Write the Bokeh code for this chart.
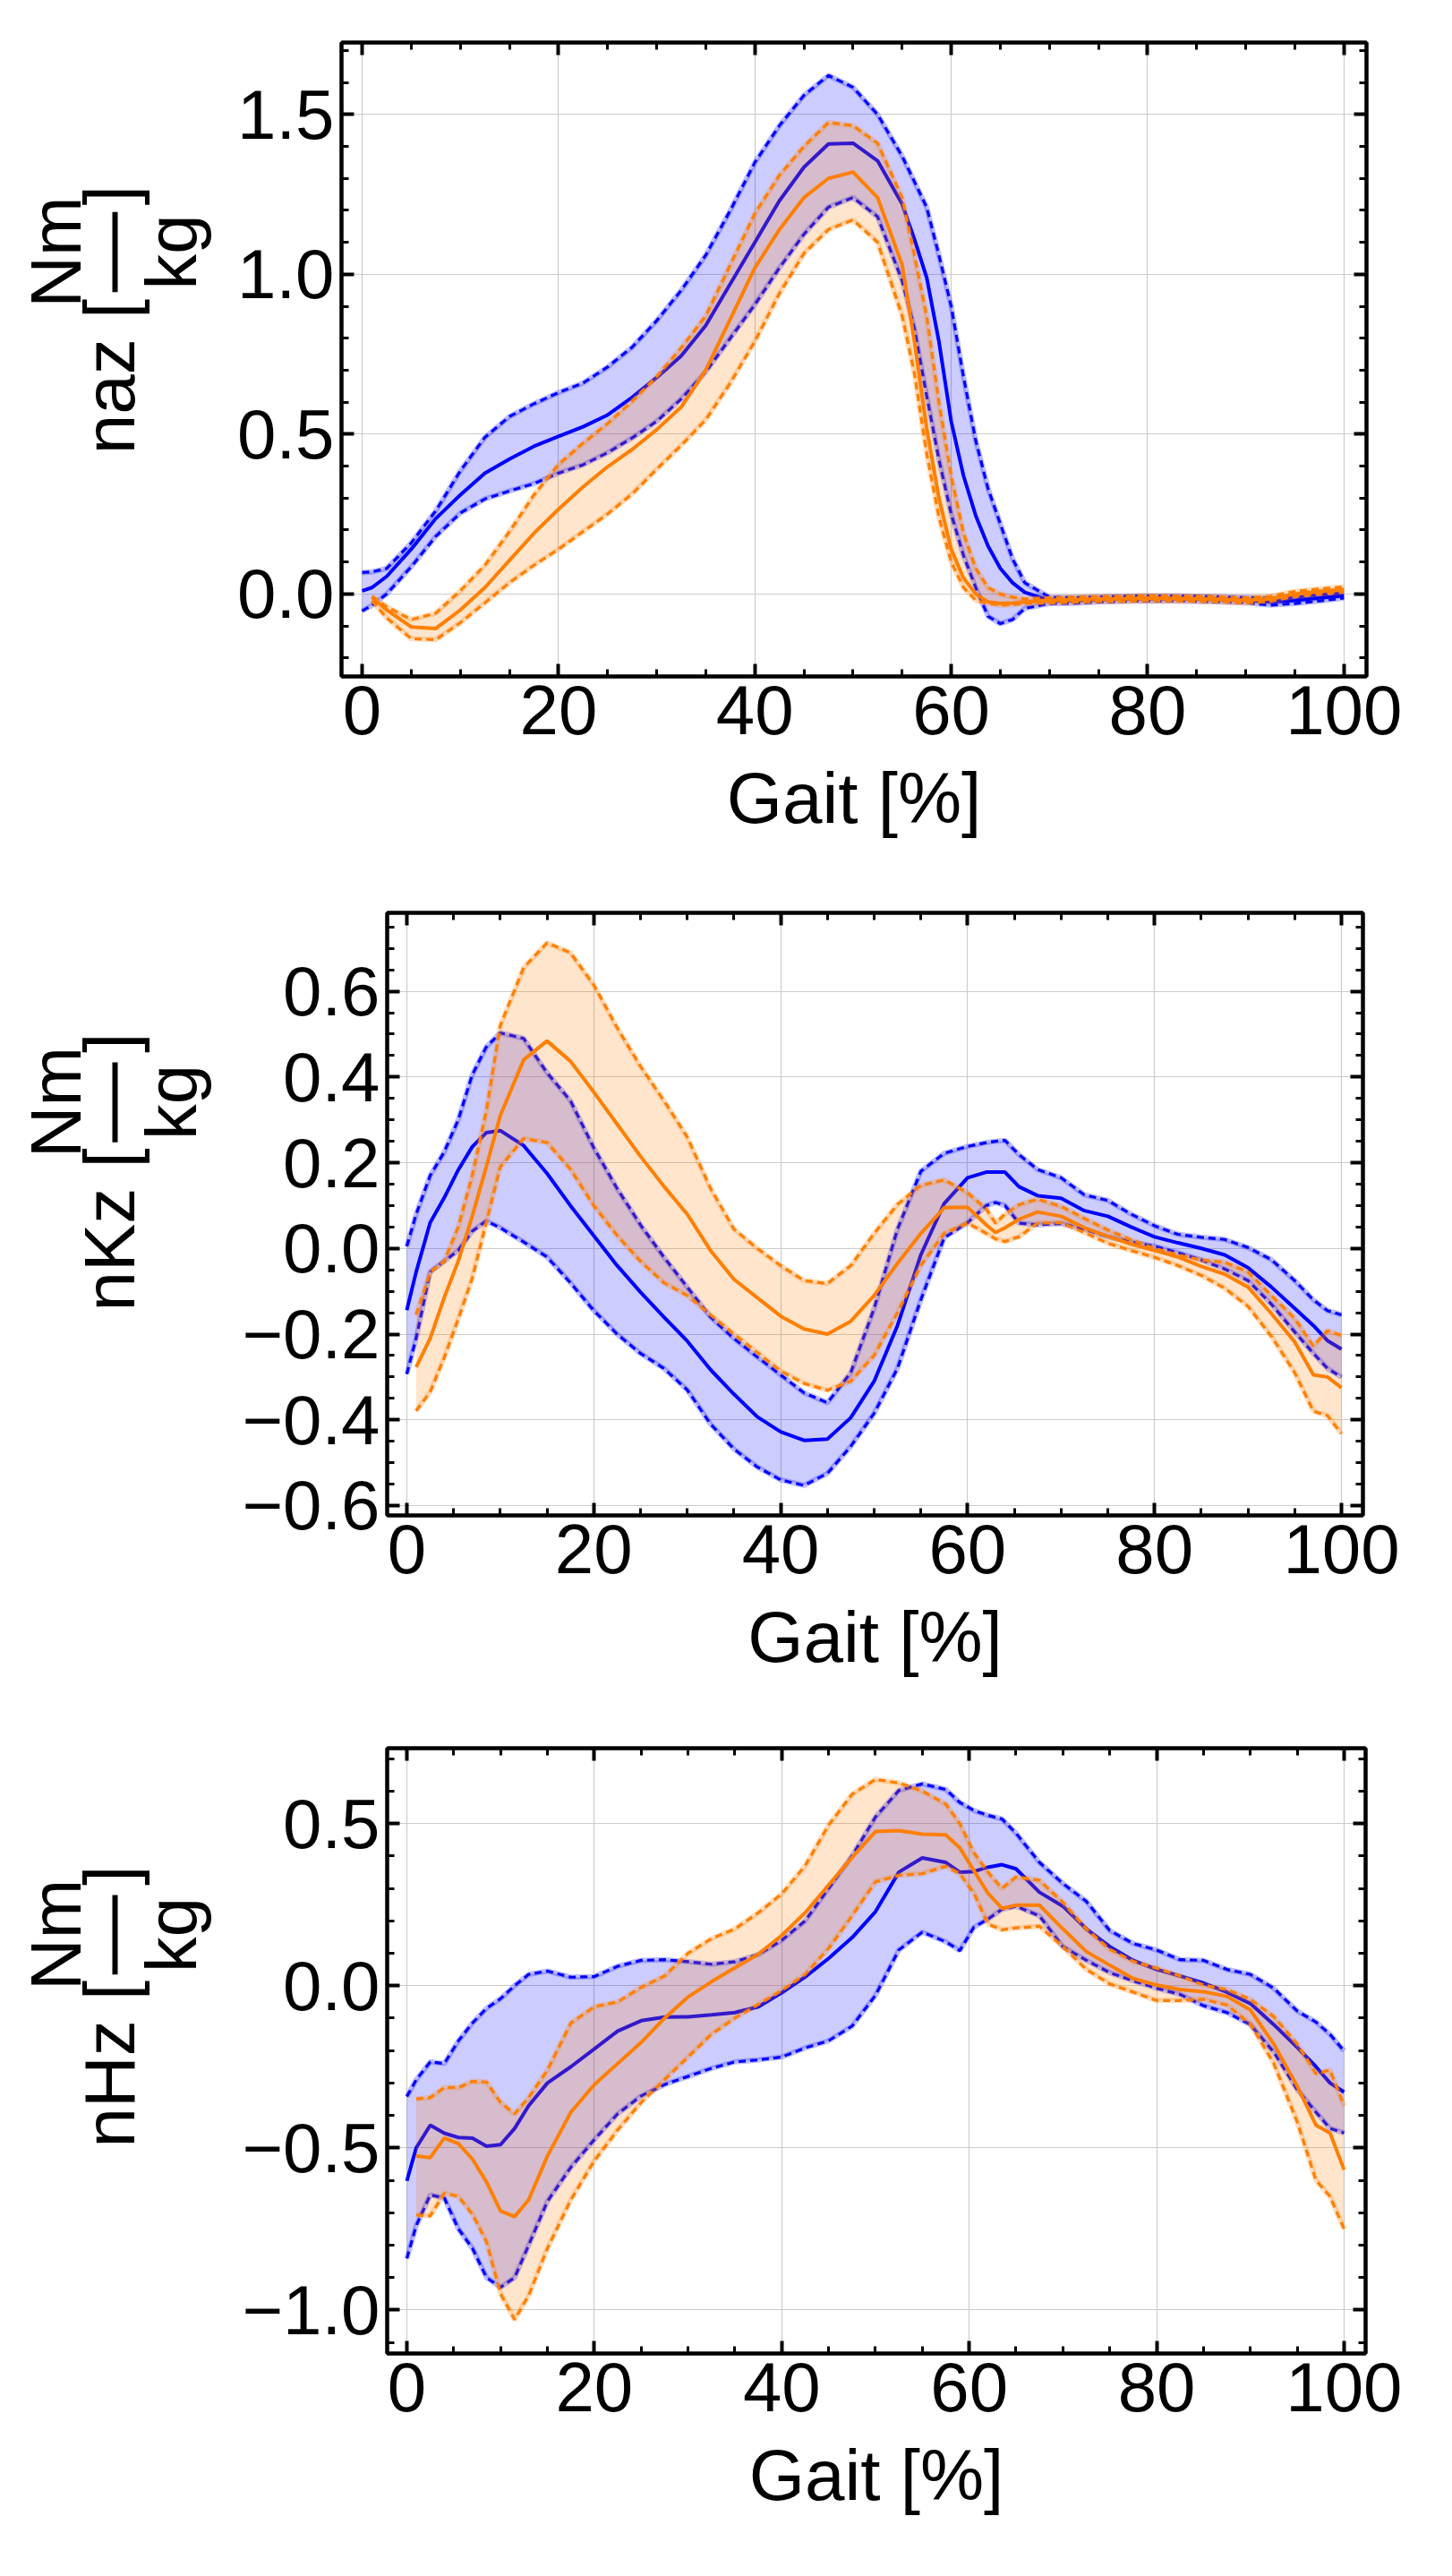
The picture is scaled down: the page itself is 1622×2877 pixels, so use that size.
"""
Gait moment curves (mean and band) for two groups, three stacked panels.
"""
from math import pi

from bokeh.core.properties import value
from bokeh.embed import file_html
from bokeh.layouts import column, row
from bokeh.models import CustomJSTickFormatter, LinearAxis, Range1d, SingleIntervalTicker
from bokeh.plotting import figure
from bokeh.resources import INLINE

FONT = "Liberation Sans"
BLUE = "#0000ff"
ORANGE = "#ff7f00"

# ---- panel 1 : naz ----
gait_1 = [0, 1, 2.5, 5, 7.5, 10, 12.5, 15, 17.5, 20, 22.5, 25, 27.5, 30, 32.5, 35, 37.5,
          40, 42.5, 45, 47.5, 50, 52.5, 55, 56.25, 57.5, 58.75, 60, 61.25, 62.5, 63.75,
          65, 66.25, 67.5, 70, 72.5, 75, 77.5, 80, 82.5, 85, 87.5, 90, 92.5, 95, 97.5, 100]
naz_blue_mean = [0.01, 0.02, 0.055, 0.14, 0.236, 0.31, 0.378, 0.422, 0.462, 0.493, 0.523, 0.56,
                 0.615, 0.677, 0.745, 0.84, 0.97, 1.1, 1.23, 1.335, 1.408, 1.41, 1.355, 1.22,
                 1.11, 0.99, 0.79, 0.54, 0.37, 0.245, 0.15, 0.08, 0.035, 0.005,
                 -0.02, -0.02, -0.017, -0.015, -0.014, -0.014, -0.015, -0.017, -0.019, -0.024,
                 -0.02, -0.012, -0.005]
naz_blue_hi = [0.067, 0.069, 0.08, 0.16, 0.26, 0.385, 0.49, 0.555, 0.595, 0.63, 0.66, 0.71,
               0.772, 0.855, 0.95, 1.06, 1.2, 1.35, 1.465, 1.56, 1.622, 1.585, 1.5, 1.37,
               1.29, 1.21, 1.06, 0.9, 0.68, 0.48, 0.33, 0.22, 0.11, 0.035,
               -0.01, -0.011, -0.009, -0.007, -0.006, -0.006, -0.007, -0.009, -0.011, -0.013,
               -0.01, -0.002, 0.003]
naz_blue_lo = [-0.053, -0.036, 0.0, 0.085, 0.18, 0.253, 0.297, 0.322, 0.345, 0.378, 0.404,
               0.442, 0.488, 0.54, 0.61, 0.695, 0.80, 0.905, 1.02, 1.125, 1.21, 1.24, 1.18, 0.98,
               0.83, 0.62, 0.42, 0.25, 0.12, 0.02, -0.07, -0.093, -0.08, -0.045,
               -0.03, -0.029, -0.025, -0.023, -0.022, -0.022, -0.023, -0.025, -0.027, -0.035,
               -0.03, -0.022, -0.013]
# orange series start at gait = 1
naz_orange_mean = [-0.01, -0.05, -0.103, -0.108, -0.05, 0.02, 0.105, 0.19, 0.265, 0.335, 0.398,
                   0.452, 0.514, 0.585, 0.70, 0.86, 1.02, 1.14, 1.24, 1.30, 1.32, 1.24, 1.03,
                   0.79, 0.52, 0.30, 0.14, 0.05, 0.0, -0.025, -0.03, -0.028, -0.025,
                   -0.02, -0.018, -0.016, -0.015, -0.013, -0.014, -0.015, -0.017, -0.02, -0.015,
                   0.0, 0.008, 0.014]
naz_orange_hi = [-0.007, -0.04, -0.08, -0.06, 0.01, 0.09, 0.195, 0.31, 0.405, 0.472, 0.533,
                 0.603, 0.68, 0.77, 0.87, 1.03, 1.19, 1.31, 1.40, 1.475, 1.465, 1.41, 1.24,
                 1.06, 0.87, 0.60, 0.37, 0.19, 0.08, 0.02, 0.0, -0.01, -0.015,
                 -0.012, -0.01, -0.008, -0.007, -0.005, -0.006, -0.007, -0.009, -0.012, -0.007,
                 0.008, 0.016, 0.022]
naz_orange_lo = [-0.021, -0.075, -0.14, -0.143, -0.09, -0.028, 0.035, 0.09, 0.14, 0.195, 0.25,
                 0.313, 0.39, 0.465, 0.545, 0.66, 0.79, 0.94, 1.065, 1.14, 1.17, 1.10, 0.87,
                 0.69, 0.44, 0.24, 0.1, 0.02, -0.02, -0.03, -0.035, -0.033, -0.03,
                 -0.028, -0.026, -0.024, -0.023, -0.021, -0.022, -0.023, -0.025, -0.028, -0.023,
                 -0.008, 0.0, 0.006]

# ---- panel 2 : nKz ----
gait_2 = [0, 1, 2.5, 4, 5.5, 7, 8.5, 10, 12.5, 15, 17.5, 20, 22.5, 25, 27.5, 30, 32.5, 35,
          37.5, 40, 42.5, 45, 47.5, 50, 52.5, 55, 57.5, 60, 62, 63, 64, 65.5, 67.5, 70, 72.5,
          75, 77.5, 80, 82.5, 85, 87.5, 90, 92.5, 95, 97, 98.5, 100]
nkz_blue_mean = [-0.144, -0.055, 0.06, 0.118, 0.183, 0.237, 0.27,
                 0.275, 0.24, 0.175, 0.10, 0.03, -0.04, -0.102, -0.16, -0.216, -0.283, -0.34,
                 -0.393, -0.428, -0.448, -0.445, -0.395, -0.31, -0.18, -0.015, 0.105, 0.165,
                 0.178, 0.178, 0.178, 0.144, 0.123,
                 0.117, 0.088, 0.075, 0.05, 0.027, 0.013, 0.0, -0.015, -0.045, -0.09, -0.14,
                 -0.18, -0.215, -0.235]
nkz_blue_hi = [0.005, 0.08, 0.17, 0.225, 0.3, 0.405, 0.47,
               0.503, 0.49, 0.41, 0.345, 0.235, 0.14, 0.055, -0.02, -0.09, -0.16, -0.21,
               -0.253, -0.295, -0.337, -0.36, -0.29, -0.14, 0.045, 0.18, 0.222, 0.238,
               0.247, 0.25, 0.252, 0.219, 0.184,
               0.165, 0.125, 0.112, 0.08, 0.053, 0.033, 0.026, 0.021, 0.002, -0.026, -0.075,
               -0.12, -0.145, -0.155]
nkz_blue_lo = [-0.293, -0.21, -0.055, -0.03, -0.005, 0.04, 0.064,
               0.048, 0.015, -0.02, -0.08, -0.145, -0.2, -0.245, -0.28, -0.33, -0.41, -0.468,
               -0.51, -0.54, -0.553, -0.525, -0.462, -0.385, -0.28, -0.12, 0.025, 0.06,
               0.1, 0.107, 0.1, 0.059, 0.055,
               0.058, 0.045, 0.027, 0.015, 0.005, -0.01, -0.027, -0.048, -0.075, -0.13, -0.195,
               -0.245, -0.28, -0.30]
nkz_orange_mean = [-0.277, -0.21, -0.115, -0.03, 0.075, 0.19,
                   0.31, 0.44, 0.484, 0.437, 0.365, 0.29, 0.215, 0.145, 0.08, -0.005, -0.072,
                   -0.115, -0.158, -0.188, -0.2, -0.17, -0.11, -0.035, 0.035, 0.095, 0.096,
                   0.055, 0.037, 0.048, 0.068, 0.085,
                   0.075, 0.048, 0.028, 0.01, -0.005, -0.02, -0.042, -0.06, -0.09, -0.152, -0.218,
                   -0.295, -0.3, -0.325]
nkz_orange_hi = [-0.155, -0.055, -0.03, 0.05, 0.17, 0.32,
                 0.52, 0.655, 0.713, 0.69, 0.615, 0.515, 0.425, 0.345, 0.26, 0.14, 0.045,
                 0.0, -0.04, -0.075, -0.082, -0.04, 0.035, 0.103, 0.147, 0.16, 0.13,
                 0.092, 0.059, 0.08, 0.102, 0.115,
                 0.098, 0.07, 0.043, 0.02, 0.0, -0.015, -0.027, -0.032, -0.055, -0.11, -0.163,
                 -0.228, -0.192, -0.203]
nkz_orange_lo = [-0.379, -0.335, -0.255, -0.165, -0.07, 0.06,
                 0.19, 0.256, 0.247, 0.185, 0.1, 0.03, -0.03, -0.08, -0.11, -0.155, -0.2,
                 -0.243, -0.286, -0.315, -0.331, -0.31, -0.25, -0.15, -0.04, 0.035, 0.059,
                 0.035, 0.022, 0.016, 0.027, 0.059,
                 0.06, 0.037, 0.012, -0.005, -0.021, -0.04, -0.063, -0.093, -0.135, -0.205, -0.29,
                 -0.38, -0.39, -0.432]

# ---- panel 3 : nHz ----
gait_3 = [0, 1, 2.5, 4, 5.5, 7, 8.5, 10, 11.5, 13, 15, 17.5, 20, 22.5, 25, 27.5, 30, 32.5,
          35, 37.5, 40, 42.5, 45, 47.5, 50, 52.5, 55, 57.5, 59, 60.5, 62, 63.5, 65, 67.5, 70,
          72.5, 75, 77.5, 80, 82.5, 85, 87.5, 90, 92.5, 95, 97, 98.5, 100]
nhz_blue_mean = [-0.602, -0.5, -0.43, -0.455, -0.468, -0.47, -0.495, -0.49, -0.44, -0.37,
                 -0.3, -0.25, -0.195, -0.14, -0.108, -0.097, -0.096, -0.09, -0.083, -0.065,
                 -0.022, 0.027, 0.084, 0.148, 0.228, 0.35, 0.394, 0.38,
                 0.35, 0.352, 0.365, 0.373, 0.36,
                 0.288, 0.245, 0.175, 0.12, 0.078, 0.05, 0.03, 0.008, -0.02, -0.055, -0.12, -0.19,
                 -0.25, -0.3, -0.328]
nhz_blue_hi = [-0.342, -0.29, -0.235, -0.24, -0.17, -0.115, -0.07, -0.04, 0.0, 0.035,
               0.045, 0.026, 0.028, 0.06, 0.078, 0.08, 0.074, 0.066, 0.074, 0.096,
               0.14, 0.2, 0.3, 0.4, 0.52, 0.602, 0.622, 0.605,
               0.565, 0.54, 0.525, 0.514, 0.47,
               0.38, 0.315, 0.26, 0.17, 0.13, 0.11, 0.08, 0.078, 0.05, 0.035, -0.008, -0.078,
               -0.112, -0.15, -0.201]
nhz_blue_lo = [-0.841, -0.74, -0.645, -0.655, -0.75, -0.81, -0.9, -0.93, -0.9, -0.8,
               -0.665, -0.56, -0.475, -0.395, -0.34, -0.305, -0.28, -0.255, -0.235, -0.229,
               -0.22, -0.192, -0.17, -0.125, -0.03, 0.11, 0.165, 0.135,
               0.108, 0.18, 0.205, 0.235, 0.245,
               0.215, 0.12, 0.078, 0.04, 0.015, -0.008, -0.027, -0.062, -0.083, -0.12, -0.205,
               -0.32, -0.39, -0.44, -0.454]
nhz_orange_mean = [-0.525, -0.53, -0.47, -0.487, -0.535, -0.605, -0.695, -0.712, -0.66,
                   -0.525, -0.39, -0.305, -0.24, -0.175, -0.1, -0.035, 0.012, 0.055, 0.097,
                   0.155, 0.225, 0.31, 0.395, 0.475, 0.478, 0.467, 0.465,
                   0.425, 0.355, 0.285, 0.238, 0.248,
                   0.248, 0.175, 0.105, 0.063, 0.022, 0.002, -0.012, -0.019, -0.033, -0.075,
                   -0.18, -0.31, -0.43, -0.454, -0.567]
nhz_orange_hi = [-0.349, -0.345, -0.314, -0.314, -0.295, -0.297, -0.36, -0.395, -0.345,
                 -0.26, -0.115, -0.065, -0.05, -0.005, 0.03, 0.1, 0.145, 0.175, 0.225,
                 0.283, 0.37, 0.495, 0.59, 0.636, 0.625, 0.6, 0.56,
                 0.5, 0.41, 0.35, 0.3, 0.335,
                 0.325, 0.257, 0.175, 0.112, 0.075, 0.054, 0.03, 0.002, -0.012, -0.042,
                 -0.095, -0.18, -0.271, -0.26, -0.37]
nhz_orange_lo = [-0.707, -0.71, -0.64, -0.65, -0.705, -0.79, -0.95, -1.03, -0.955,
                 -0.81, -0.66, -0.54, -0.445, -0.36, -0.29, -0.22, -0.15, -0.1, -0.058,
                 -0.015, 0.035, 0.115, 0.215, 0.32, 0.34, 0.345, 0.368,
                 0.345, 0.285, 0.19, 0.172, 0.178,
                 0.183, 0.12, 0.05, 0.005, -0.02, -0.046, -0.046, -0.042, -0.06, -0.118,
                 -0.24, -0.42, -0.6, -0.65, -0.75]

LABEL_W = 250


def band(p, x, lo, mid, hi, color):
    p.varea(x=x, y1=lo, y2=hi, fill_color=color, fill_alpha=0.2)
    for y in (lo, hi):
        p.line(x, y, line_color=color, line_alpha=0.25, line_width=6)
        p.line(x, y, line_color=color, line_width=3.2, line_dash="8 5")
    p.line(x, mid, line_color=color, line_width=4)


def panel(height, borders, y_range, y_step, y_minor, gait, blue, orange):
    left, right, top, bottom = borders
    p = figure(width=1606 - LABEL_W, height=height,
               x_range=Range1d(-2.1, 102.3), y_range=Range1d(*y_range),
               min_border_left=left, min_border_right=right,
               min_border_top=top, min_border_bottom=bottom,
               toolbar_location=None, output_backend="svg")
    p.outline_line_color = "black"
    p.outline_line_width = 4

    xt = SingleIntervalTicker(interval=20, num_minor_ticks=4)
    yt = SingleIntervalTicker(interval=y_step, num_minor_ticks=y_minor)
    xaxis, yaxis = p.below[0], p.left[0]
    xaxis.ticker = xt
    yaxis.ticker = yt
    yaxis.formatter = CustomJSTickFormatter(code="""
        const t = Math.abs(tick) < 1e-9 ? 0 : tick;
        return t.toFixed(1).replace('-', '\\u2212');
    """)
    # frame ticks on top and right, no labels
    top_ax = LinearAxis(ticker=xt, formatter=CustomJSTickFormatter(code="return '';"))
    right_ax = LinearAxis(ticker=yt, formatter=CustomJSTickFormatter(code="return '';"))
    p.add_layout(top_ax, "above")
    p.add_layout(right_ax, "right")

    for ax in (xaxis, yaxis, top_ax, right_ax):
        ax.axis_line_width = 4
        ax.axis_line_color = "black"
        ax.major_tick_in = 14
        ax.major_tick_out = 0
        ax.minor_tick_in = 8
        ax.minor_tick_out = 0
        ax.major_tick_line_width = 4
        ax.minor_tick_line_width = 3
        ax.major_label_text_font = FONT
        ax.major_label_text_font_size = "78px"
        ax.major_label_text_color = "black"
    for ax in (top_ax, right_ax):
        ax.major_label_text_color = None
        ax.major_label_standoff = 0
    xaxis.major_label_standoff = 10
    yaxis.major_label_standoff = 8

    xaxis.axis_label = "Gait [%]"
    xaxis.axis_label_text_font = FONT
    xaxis.axis_label_text_font_size = "80px"
    xaxis.axis_label_text_font_style = "normal"
    xaxis.axis_label_text_color = "black"
    xaxis.axis_label_standoff = 24

    p.xgrid.ticker = xt
    p.ygrid.ticker = yt
    p.grid.grid_line_color = "#cccccc"
    p.grid.grid_line_width = 1.2

    band(p, gait, blue[0], blue[1], blue[2], BLUE)
    band(p, gait[1:], orange[0], orange[1], orange[2], ORANGE)
    return p


def ylabel(height, name, pos):
    """rotated 'name [Nm/kg]' in a narrow side figure, pixel units.
    text anchors sit on the middle of the text box (0.35 em off the baseline)"""
    end_open, frac, start_close = pos
    q = figure(width=LABEL_W, height=height, x_range=Range1d(0, LABEL_W),
               y_range=Range1d(0, height), x_axis_type=None, y_axis_type=None,
               toolbar_location=None, output_backend="svg", min_border=0)
    q.outline_line_color = None
    kw = dict(angle=pi / 2, text_font=value(FONT), text_font_size="80px",
              text_color="black", text_baseline="middle")
    q.text(x=[122], y=[end_open], text=[name + " ["], text_align="right", **kw)
    q.text(x=[62, 191], y=[frac, frac], text=["Nm", "kg"], text_align="center", **kw)
    q.segment(x0=[128], y0=[frac - 62], x1=[128], y1=[frac + 62],
              line_width=6, line_color="black")
    q.text(x=[122], y=[start_close], text=["]"], text_align="left", **kw)
    return q


p1 = panel(982, (131, 80, 47, 227), (-0.258, 1.725), 0.5, 5, gait_1,
           (naz_blue_lo, naz_blue_mean, naz_blue_hi),
           (naz_orange_lo, naz_orange_mean, naz_orange_hi))
p2 = panel(935, (182, 84, 37, 225), (-0.623, 0.783), 0.2, 4, gait_2,
           (nkz_blue_lo, nkz_blue_mean, nkz_blue_hi),
           (nkz_orange_lo, nkz_orange_mean, nkz_orange_hi))
p3 = panel(944, (182, 81, 35, 233), (-1.134, 0.732), 0.5, 5, gait_3,
           (nhz_blue_lo, nhz_blue_mean, nhz_blue_hi),
           (nhz_orange_lo, nhz_orange_mean, nhz_orange_hi))

l1 = ylabel(982, "naz", (585, 657.5, 730))
l2 = ylabel(935, "nKz", (570, 641, 718))
l3 = ylabel(944, "nHz", (582, 653, 730))

layout = column(row(l1, p1), row(l2, p2), row(l3, p3))

open("out.html", "w").write(file_html(layout, INLINE))
